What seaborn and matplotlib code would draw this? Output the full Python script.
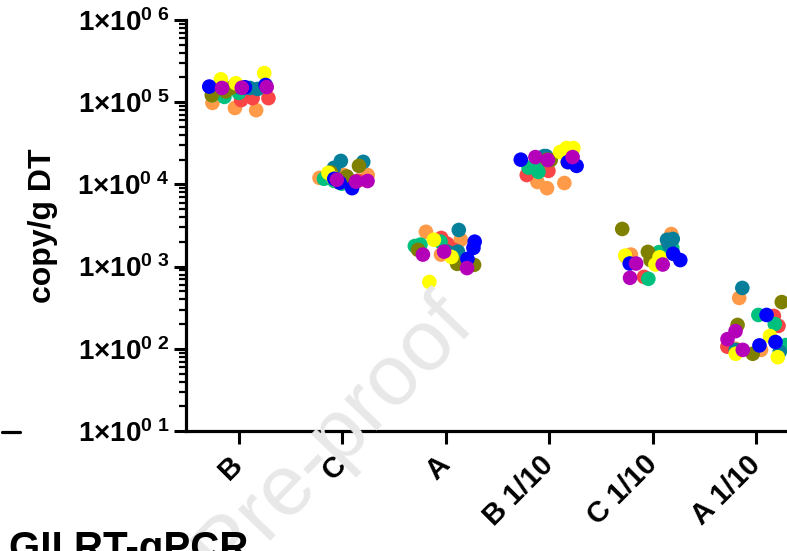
import numpy as np
import pandas as pd
import matplotlib
matplotlib.use("Agg")
import matplotlib.pyplot as plt
from matplotlib.lines import Line2D
import seaborn as sns
from matplotlib.ticker import FixedLocator, FixedFormatter, NullFormatter

# ---------------- data ----------------
categories = ["B", "C", "A", "B 1/10", "C 1/10", "A 1/10"]
samples = ["S1", "S2", "S3", "S4", "S5", "S6", "S7", "S8"]
colors = ["#FF9B48", "#F94545", "#00C07E", "#06809A", "#808000", "#FFFF00", "#0000FF", "#B400B8"]

# three replicates per category, categories in the order above
s1_orange = [9.8e4, 8.0e4, 8.5e4, 1.3e4, 1.2e4, 1.3e4, 2.65e3, 2.12e3, 1.4e3,
             1.07e4, 9.0e3, 1.04e4, 2.49e3, 1.65e3, 1.40e3, 4.15e2, 9.7e1, 1.0e2]
s2_red = [1.12e5, 1.12e5, 1.06e5, 1.11e4, 1.08e4, 1.15e4, 2.23e3, 1.6e3, 1.9e3,
          1.46e4, 1.30e4, 1.5e4, 1.47e3, 1.33e3, 7.5e2, 2.51e2, 1.90e2, 1.06e2]
s3_green = [1.3e5, 1.22e5, 1.16e5, 1.17e4, 1.02e4, 1.1e4, 2.01e3, 1.78e3, 1.85e3,
            1.42e4, 1.58e4, 1.6e4, 1.69e3, 7.1e2, 1.5e3, 2.58e2, 2.0e2, 1.11e2]
s4_teal = [1.53e5, 1.49e5, 1.45e5, 1.93e4, 1.59e4, 1.88e4, 2.79e3, 1.52e3, 1.52e3,
           2.21e4, 2.21e4, 2.48e4, 2.12e3, 2.17e3, 1.83e3, 5.5e2, 9.7e1, 9.2e1]
s5_olive = [1.5e5, 1.22e5, 1.35e5, 1.68e4, 1.4e4, 1.25e4, 1.05e3, 1.08e3, 1.6e3,
            1.87e4, 1.98e4, 2.0e4, 2.87e3, 1.51e3, 1.2e3, 3.7e2, 1.95e2, 8.7e1]
s6_yellow = [2.26e5, 1.9e5, 1.7e5, 1.38e4, 1.05e4, 1.2e4, 2.12e3, 1.31e3, 6.5e2,
             2.77e4, 2.77e4, 2.48e4, 1.36e3, 1.06e3, 1.3e3, 1.43e2, 7.9e1, 8.7e1]
s7_blue = [1.62e5, 1.55e5, 1.52e5, 9.0e3, 1.17e4, 1.05e4, 2.01e3, 1.69e3, 1.24e3,
           1.87e4, 1.68e4, 2.0e4, 1.43e3, 1.2e3, 1.09e3, 2.58e2, 1.21e2, 1.1e2]
s8_magenta = [1.53e5, 1.49e5, 1.5e5, 1.08e4, 1.14e4, 1.1e4, 1.52e3, 9.6e2, 1.4e3,
              2.15e4, 2.15e4, 1.98e4, 1.09e3, 1.06e3, 7.3e2, 1.64e2, 1.31e2, 9.7e1]

series = [s1_orange, s2_red, s3_green, s4_teal, s5_olive, s6_yellow, s7_blue, s8_magenta]
ytick_vals = [1e1, 1e2, 1e3, 1e4, 1e5, 1e6]
ytick_labels = [r"$1{\times}10^{0\ 1}$", r"$1{\times}10^{0\ 2}$", r"$1{\times}10^{0\ 3}$",
                r"$1{\times}10^{0\ 4}$", r"$1{\times}10^{0\ 5}$", r"$1{\times}10^{0\ 6}$"]

rows = []
for name, vals in zip(samples, series):
    for i, v in enumerate(vals):
        rows.append({"sample": name, "category": categories[i // 3], "value": v})
df = pd.DataFrame(rows)

# ---------------- style ----------------
sns.set_style("ticks")
plt.rcParams["font.family"] = ["Liberation Sans", "DejaVu Sans"]
plt.rcParams["font.weight"] = "bold"
plt.rcParams["text.color"] = "black"
plt.rcParams["axes.labelcolor"] = "black"
plt.rcParams["xtick.color"] = "black"
plt.rcParams["ytick.color"] = "black"
plt.rcParams["mathtext.fontset"] = "custom"
plt.rcParams["mathtext.rm"] = "Liberation Sans:bold"
plt.rcParams["mathtext.bf"] = "Liberation Sans:bold"
plt.rcParams["mathtext.it"] = "Liberation Sans:bold"
plt.rcParams["mathtext.sf"] = "Liberation Sans:bold"

fig = plt.figure(figsize=(7.87, 5.51), dpi=100)

# watermark
fig.text(0.605, 0.405, "Journal Pre-proof", color="#E8E8E8", fontsize=62,
         fontweight="normal", rotation=46, rotation_mode="anchor",
         ha="right", va="baseline", zorder=0)

ax = fig.add_axes([0.2363, 0.2178, 0.78, 0.7459])
ax.patch.set_alpha(0)

np.random.seed(7)
sns.stripplot(data=df, x="category", y="value", hue="sample", order=categories,
              hue_order=samples, palette=colors, jitter=0.3, size=10.5,
              linewidth=0, alpha=1, legend=False, log_scale=True, ax=ax)

ax.set_ylim(10, 1e6)
ax.set_xlim(-0.51, 5.42)

ax.yaxis.set_major_locator(FixedLocator(ytick_vals))
ax.yaxis.set_major_formatter(FixedFormatter(ytick_labels))
minor = [m * 10 ** k for k in range(1, 6) for m in range(2, 10)]
ax.yaxis.set_minor_locator(FixedLocator(minor))
ax.yaxis.set_minor_formatter(NullFormatter())

for s in ["top", "right"]:
    ax.spines[s].set_visible(False)
for s in ["left", "bottom"]:
    ax.spines[s].set_linewidth(2.3)
    ax.spines[s].set_color("black")

ax.tick_params(axis="y", which="major", length=9, width=2.2, labelsize=20, pad=3, direction="out", color="black")
ax.tick_params(axis="y", which="minor", length=5, width=1.6, direction="out", color="black")
ax.tick_params(axis="x", which="major", length=9, width=2.2, labelsize=21, pad=12, direction="out", color="black")

for lab in ax.get_xticklabels():
    lab.set_rotation(45)
    lab.set_ha("right")
    lab.set_va("center")
    lab.set_rotation_mode("anchor")
    lab.set_fontweight("bold")

ax.set_xlabel("")
ax.set_ylabel("copy/g DT", fontsize=23, fontweight="bold", labelpad=14)

# cropped panel title & stray tick from neighbouring panel
fig.text(0.012, -0.03, "GII RT-qPCR", fontsize=29, fontweight="bold", ha="left", va="bottom")
fig.add_artist(Line2D([0.003, 0.025], [0.216, 0.216], transform=fig.transFigure,
                      color="black", linewidth=2.3))

fig.savefig("out.png", dpi=100)
